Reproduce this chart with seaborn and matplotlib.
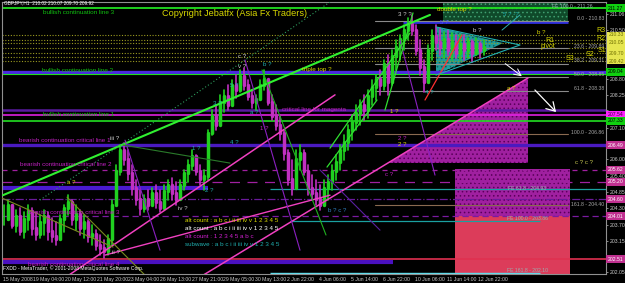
import numpy as np
import pandas as pd
import matplotlib
matplotlib.use("Agg")
import matplotlib.pyplot as plt
import seaborn as sns
from matplotlib.patches import Polygon, Rectangle

# ---------------- data ----------------
bar_x = list(range(4, 488, 4))  # H1 bars aggregated by 4 (bar index)
hi = [204.40, 204.57, 204.40, 204.22, 204.29, 204.15, 204.40, 204.29, 204.15, 204.05,
      204.22, 204.15, 203.94, 203.80, 204.05, 204.40, 204.74, 204.57, 204.40, 204.22,
      204.05, 203.87, 203.70, 203.52, 203.35, 203.17, 203.35, 204.57, 205.79, 206.49,
      206.56, 206.31, 205.79, 205.27, 204.92, 204.74, 204.92, 204.99, 205.09, 204.92,
      205.09, 205.27, 205.34, 205.20, 205.27, 205.62, 205.97, 206.31, 206.14, 205.79,
      205.62, 207.01, 207.71, 207.89, 208.23, 208.41, 208.58, 208.76, 208.93, 209.11,
      209.18, 208.76, 208.41, 208.23, 208.76, 209.11, 208.76, 208.23, 207.89, 207.54,
      207.01, 206.31, 205.97, 206.31, 206.49, 206.31, 205.79, 205.44, 205.27, 205.09,
      205.27, 205.44, 205.79, 206.14, 206.49, 206.84, 207.19, 207.54, 207.89, 208.06,
      208.23, 208.41, 208.76, 208.93, 209.11, 209.46, 209.63, 209.80, 210.15, 210.33,
      210.68, 210.92, 211.03, 210.68, 210.15, 209.46, 209.98, 210.50, 210.68, 210.57,
      210.43, 210.50, 210.40, 210.33, 210.33, 210.33, 210.22, 210.15, 210.22, 210.08,
      210.15]
lo = [203.70, 203.87, 203.59, 203.45, 203.35, 203.24, 203.52, 203.35, 203.17, 203.24,
      203.35, 203.17, 203.10, 203.00, 203.17, 203.45, 204.05, 203.70, 203.52, 203.35,
      203.24, 203.10, 203.00, 202.82, 202.65, 202.55, 202.65, 203.00, 204.40, 205.44,
      205.79, 205.27, 204.74, 204.40, 204.05, 204.15, 204.22, 204.40, 204.29, 204.15,
      204.40, 204.57, 204.57, 204.40, 204.57, 204.92, 205.20, 205.62, 205.44, 205.09,
      204.92, 205.27, 206.84, 207.01, 207.36, 207.64, 207.71, 207.99, 208.13, 208.34,
      208.41, 208.06, 207.78, 207.71, 208.06, 208.41, 207.89, 207.36, 207.01, 206.66,
      205.97, 205.09, 204.74, 205.27, 205.62, 205.44, 204.74, 204.57, 204.40, 204.22,
      204.40, 204.57, 204.92, 205.27, 205.62, 205.97, 206.31, 206.66, 207.01, 207.19,
      207.36, 207.43, 207.89, 208.06, 208.23, 208.41, 208.23, 208.58, 209.11, 209.46,
      209.80, 210.15, 210.33, 209.63, 208.93, 208.34, 208.76, 209.46, 209.80, 209.63,
      209.53, 209.63, 209.46, 209.53, 209.46, 209.46, 209.53, 209.39, 209.63, 209.53,
      209.63]
cl = [203.9, 204.4, 203.7, 204.0, 203.5, 203.9, 204.2, 203.6, 203.4, 203.8,
      204.0, 203.5, 203.3, 203.2, 203.9, 204.3, 204.5, 203.9, 204.1, 203.6,
      203.8, 203.3, 203.4, 203.0, 202.9, 202.8, 203.2, 204.4, 205.6, 206.3,
      206.0, 205.5, 205.0, 204.6, 204.3, 204.6, 204.4, 204.8, 204.5, 204.3,
      204.9, 205.1, 204.8, 204.6, 205.1, 205.5, 205.8, 206.1, 205.6, 205.3,
      205.4, 206.9, 207.5, 207.2, 208.0, 208.2, 207.9, 208.6, 208.4, 208.9,
      208.6, 208.2, 208.0, 208.1, 208.6, 208.8, 208.0, 207.5, 207.2, 206.9,
      206.2, 205.3, 205.0, 206.0, 206.2, 205.6, 205.0, 204.8, 204.6, 204.4,
      205.0, 205.2, 205.6, 205.9, 206.3, 206.6, 207.0, 207.3, 207.6, 207.9,
      207.7, 208.2, 208.5, 208.8, 208.6, 209.3, 208.7, 209.6, 209.9, 210.2,
      210.5, 210.7, 210.5, 209.8, 209.2, 208.7, 209.8, 210.3, 210.1, 209.9,
      210.2, 209.8, 210.1, 209.7, 210.0, 209.8, 210.1, 209.7, 210.0, 209.8,
      209.92]

# full width horizontal levels
full_lvls = [211.27, 209.04, 208.98, 207.71, 207.54, 207.33, 206.49, 205.62, 205.20, 204.60, 204.01, 202.51]
# partial horizontal levels
part_lvls = [204.99, 204.95, 203.84, 202.41, 202.03, 210.78]
# fibonacci retracement
fib_pct = ["0.0", "23.6", "38.2", "50.0", "61.8", "100.0", "161.8"]
fib_val = [210.83, 209.89, 209.31, 208.85, 208.38, 206.86, 204.40]
# pivots
piv_names = ["R3", "R2", "R1", "pivot", "S1", "S2", "S3"]
piv_vals = [210.33, 210.15, 210.05, 209.87, 209.70, 209.56, 209.42]
piv_shown = [210.33, 210.05, 209.70, 209.42]
# fibonacci expansion
fe_txt = ["FE 100.0 - 211.26", "FE 61.8 - 204.93", "FE 100.0 - 203.86", "FE 161.8 - 202.10"]

# trend lines: (bar0, price0, bar1, price1)
trend_bar0 = [3, 40, 57, 190, 105, 425, 245, 400, 320, 125, 262, 330, 385, 327, 123, 67, 0]
trend_p0 = [204.74, 204.57, 201.67, 201.67, 202.65, 208.06, 209.46, 210.15, 205.62, 206.66,
            209.11, 206.38, 207.71, 205.72, 206.49, 204.67, 204.67]
trend_bar1 = [430, 330, 335, 528, 330, 462, 300, 435, 380, 160, 326, 410, 413, 377, 230, 147, 113]
trend_p1 = [211.03, 211.48, 208.24, 208.83, 204.74, 210.33, 202.82, 205.44, 203.52, 202.82,
            203.35, 210.40, 211.10, 208.06, 205.86, 201.88, 202.93]

# right axis
ytick_vals = [211.06, 210.50, 209.95, 209.40, 208.80, 208.25, 207.70, 207.10, 206.55, 206.00,
              205.40, 204.85, 204.30, 203.70, 203.15, 202.60, 202.05]
ytick_hidden = [209.95, 209.40, 207.70, 206.55, 202.60]
date_labels = ["15 May 2008", "19 May 04:00", "20 May 12:00", "21 May 20:00", "23 May 04:00",
               "26 May 13:00", "27 May 21:00", "29 May 05:00", "30 May 13:00", "2 Jun 22:00",
               "4 Jun 06:00", "5 Jun 14:00", "6 Jun 22:00", "10 Jun 06:00", "11 Jun 14:00",
               "12 Jun 22:00"]
date_pos = [3, 33, 65, 97, 128, 160, 192, 223, 255, 287, 319, 351, 383, 415, 447, 478]

# ---------------- style ----------------
sns.set_theme(style="dark", rc={"axes.facecolor": "black", "figure.facecolor": "black",
                                "axes.edgecolor": "#808080", "xtick.color": "#A0A0A0",
                                "ytick.color": "#A0A0A0", "hatch.linewidth": 0.6})
plt.rcParams["font.family"] = ["Liberation Sans", "DejaVu Sans"]

W, H = 625, 283
fig = plt.figure(figsize=(W / 100, H / 100), dpi=100)
ax = fig.add_axes([2 / W, 9 / H, 604 / W, 272 / H])
ax.set_facecolor("black")
ax.set_xlim(2, 606)
ax.set_ylim(201.99, 211.48)

def T(x, y, s, c="#C0C0C0", fs=4.6, **kw):
    kw.setdefault("va", "center")
    kw.setdefault("ha", "left")
    fig.text(x / W, 1 - y / H, s, color=c, fontsize=fs, **kw)

# ---------------- shaded objects ----------------
ax.add_patch(Rectangle((443, 210.78), 125, 0.70, facecolor="#0F4A2A", edgecolor="#3FA070",
                       hatch="....", lw=0, zorder=1))
ax.add_patch(Polygon([(436, 210.61), (503, 210.05), (436, 208.93)], closed=True,
                     facecolor="#1E9A9A", edgecolor="#0E5E5E", hatch="....", lw=0, zorder=1))
ax.add_patch(Polygon([(388, 205.86), (528, 205.86), (528, 208.83)], closed=True,
                     facecolor="#A020A0", edgecolor="#5A005A", hatch="....", lw=0, zorder=1))
ax.add_patch(Rectangle((455, 204.01), 115, 1.64, facecolor="#A020A0", edgecolor="#5A005A",
                       hatch="....", lw=0, zorder=1))
ax.add_patch(Rectangle((455, 201.99), 115, 2.02, facecolor="#DC3C5A", lw=0, zorder=1))

# ---------------- horizontal lines ----------------
full_sty = [dict(c="#22E022", lw=1.3), dict(c="#4A2AE0", lw=2.4), dict(c="#22E022", lw=0.8),
            dict(c="#5A1AA0", lw=1.8), dict(c="#E020E0", lw=1.2), dict(c="#22E022", lw=1.2),
            dict(c="#4A1AC0", lw=2.4), dict(c="#A020A0", lw=0.9, ls=(0, (4, 4))),
            dict(c="#A020A0", lw=0.9, ls=(0, (8, 6))), dict(c="#6A1A9A", lw=0.9, ls="-."),
            dict(c="#7A1AA0", lw=0.9, ls=(0, (5, 3))), dict(c="#E03050", lw=1.2)]
for v, s in zip(full_lvls, full_sty):
    ax.axhline(v, color=s["c"], lw=s["lw"], ls=s.get("ls", "-"), zorder=2)
part_x = [(3, 208), (270, 606), (290, 540), (3, 393), (270, 540), (403, 568)]
part_sty = [dict(c="#4A1AD0", lw=3.0), dict(c="#1AA0A0", lw=0.9), dict(c="#1AA0A0", lw=0.9),
            dict(c="#4A10C0", lw=3.0), dict(c="#60E0F0", lw=1.0), dict(c="#3030E0", lw=2.0)]
for v, (x0, x1), s in zip(part_lvls, part_x, part_sty):
    ax.plot([x0, x1], [v, v], color=s["c"], lw=s["lw"], zorder=2, solid_capstyle="butt")

for v in piv_vals:
    ax.axhline(v, color="#9A9A20", lw=0.8, ls=(0, (1, 1.5)), zorder=2)
for i, v in enumerate(fib_val):
    col = "#8A6A50" if fib_pct[i] in ("100.0", "161.8") else "#8A8A8A"
    ax.plot([375, 568], [v, v], color=col, lw=0.8, zorder=2)

# ---------------- trend lines ----------------
tr_sty = [dict(c="#30F030", lw=1.5), dict(c="#2E9E5E", lw=0.8, ls=(0, (1, 2))),
          dict(c="#F040C0", lw=1.1), dict(c="#F040C0", lw=1.1), dict(c="#F040C0", lw=1.0),
          dict(c="#FF3030", lw=0.9), dict(c="#8A20C0", lw=0.8), dict(c="#8A20C0", lw=0.8),
          dict(c="#5A20A0", lw=0.8), dict(c="#8A20C0", lw=0.8), dict(c="#20B020", lw=0.8),
          dict(c="#30E030", lw=0.9), dict(c="#30E030", lw=0.9), dict(c="#30E030", lw=0.9),
          dict(c="#2A7A2A", lw=0.8), dict(c="#7A8A20", lw=0.8), dict(c="#7A8A20", lw=0.8)]
for b0, p0, b1, p1, s in zip(trend_bar0, trend_p0, trend_bar1, trend_p1, tr_sty):
    ax.plot([b0, b1], [p0, p1], color=s["c"], lw=s["lw"], ls=s.get("ls", "-"), zorder=4)

# triangle outline for teal area
ax.plot([436, 520, 436], [210.61, 209.98, 208.93], color="#20B0B0", lw=0.8, zorder=4)

# ---------------- price bars (seaborn) ----------------
opn = [cl[0]] + cl[:-1]
rows_w, rows_b = [], []
for i, (x, h, l, o, c) in enumerate(zip(bar_x, hi, lo, opn, cl)):
    d = "up" if c >= o else "down"
    rows_w += [dict(x=x, p=h, id=i, d=d), dict(x=x, p=l, id=i, d=d)]
    rows_b += [dict(x=x, p=o, id=i, d=d), dict(x=x, p=c, id=i, d=d)]
wick = pd.DataFrame(rows_w)
body = pd.DataFrame(rows_b)
pal = {"up": "#20D020", "down": "#C030C0"}
sns.lineplot(data=wick, x="x", y="p", units="id", estimator=None, hue="d", palette=pal,
             sort=False, linewidth=1.2, legend=False, ax=ax, zorder=3)
sns.lineplot(data=body, x="x", y="p", units="id", estimator=None, hue="d", palette=pal,
             sort=False, linewidth=2.5, legend=False, ax=ax, zorder=3)

# ---------------- arrows ----------------
ax.annotate("", xy=(524, 208.83), xytext=(503, 209.39),
            arrowprops=dict(arrowstyle="->", color="white", lw=0.7), zorder=5)
ax.annotate("", xy=(558, 207.57), xytext=(533, 208.48),
            arrowprops=dict(arrowstyle="->,head_length=0.5,head_width=0.3", color="white", lw=0.9), zorder=5)
ax.plot([502, 520], [210.50, 211.03], color="#30B0B0", lw=0.7, zorder=4)

# ---------------- axes ----------------
ax.set_xlabel("")
ax.set_ylabel("")
ax.yaxis.tick_right()
ax.set_yticks(ytick_vals)
ax.set_yticklabels(["" if v in ytick_hidden else f"{v:.2f}" for v in ytick_vals],
                   fontsize=3.7, color="#C8C8C8")
ax.set_xticks(date_pos)
ax.set_xticklabels(date_labels, fontsize=3.7, color="#C8C8C8", ha="left")
ax.tick_params(axis="both", length=1.5, width=0.6, pad=0.6, color="#A0A0A0")
ax.tick_params(axis="y", pad=1.5)
for sp in ax.spines.values():
    sp.set_color("#909090")
    sp.set_linewidth(0.8)
ax.grid(False)

# colored price labels on right axis
tr = ax.get_yaxis_transform()
ax.add_patch(Rectangle((1.002, 209.33), 0.03, 1.10, transform=tr, facecolor="#E6E650",
                       lw=0, clip_on=False, zorder=5))
for v in piv_shown:
    ax.text(1.004, v, f"{v:.2f}", transform=tr, fontsize=3.6, color="#707000", va="center",
            ha="left", clip_on=False, zorder=6)
box_vals = [211.27, 209.04, 207.54, 207.33, 206.49, 205.62, 205.20, 204.60, 204.01, 202.51]
box_bg = ["#10D010", "#10D010", "#FF20FF", "#10D010", "#C03090",
          "#C03090", "#C03090", "#C03090", "#C03090", "#C03090"]
box_fg = ["black", "black", "#400040", "black", "white", "white",
          "white", "white", "white", "white"]
for v, bg, fg in zip(box_vals, box_bg, box_fg):
    ax.text(1.003, v, f"{v:.2f}", transform=tr, fontsize=3.7, color=fg, va="center", ha="left",
            bbox=dict(boxstyle="square,pad=0.3", fc=bg, ec="none"), clip_on=False, zorder=6)

# ---------------- texts ----------------
T(4, 3, "GBPJPY,H1  210.02 210.07 209.70 209.92", "white", 3.4)
T(162, 14, "Copyright Jebatfx (Asia Fx Traders)", "#D8D800", 6.6)
T(43, 12, "bullish continuation line 3", "#10C010", 4.6)
T(42, 71, "bullish continuation line 2", "#10C010", 4.6)
T(43, 115, "bullish continuation line 1", "#10C010", 4.6)
T(19, 140, "bearish continuation critical line 1", "#C020C0", 4.5)
T(20, 165, "bearish continuation critical line 2", "#C020C0", 4.5)
T(28, 212, "bearish continuation critical line 3", "#C020C0", 4.5)
T(28, 264, "bearish continuation critical line 4", "#C020C0", 4.5)
T(282, 110, "critical line for magenta", "#C020C0", 4.5)
T(302, 69, "triple top ?", "#D8D800", 4.6)
T(437, 10, "double top ?", "#D8D800", 4.6)
T(185, 221, "alt count : a b c i ii iii iv v 1 2 3 4 5", "#D8D800", 4.5)
T(185, 229, "alt count : a b c i ii iii iv v 1 2 3 4 5", "white", 4.5)
T(185, 237, "alt count : 1 2 3 4 5 a b c", "#D020D0", 4.5)
T(185, 245, "subwave : a b c i ii iii iv v 1 2 3 4 5", "#20B0B0", 4.5)
T(3, 268, "FXDD - MetaTrader, \u00a9 2001-2008 MetaQuotes Software Corp.", "white", 3.6)

fib_y = [19, 46, 61, 75, 88, 132, 205]
for pct, v, y in zip(fib_pct, fib_val, fib_y):
    T(604, y, f"{pct} - {v:.2f}", "#A8A8A8", 3.7, ha="right")
fe_pos = [(552, 6), (508, 188), (507, 219), (507, 270)]
for s, (x, y) in zip(fe_txt, fe_pos):
    T(x, y, s, "#9AB0B0", 3.7)

piv_pos = [(596, 31), (596, 38), (545, 40), (541, 46), (598, 51), (586, 54), (566, 58)]
for n, (x, y) in zip(piv_names, piv_pos):
    T(x, y, n, "#D8D800", 5.0)

waves = [(238, 57, "c ?", "#D0D0D0"), (238, 67, "v ?", "#D0D0D0"), (230, 86, "5 ?", "#20B0B0"),
         (263, 64, "b ?", "#20B0B0"), (398, 14, "3 ? ?", "#D0D0D0"), (440, 22, "5 ?", "#5050FF"),
         (473, 31, "b ?", "#D0D0D0"), (537, 32, "b ?", "#D8D800"), (447, 68, "a ?", "#20B0B0"),
         (507, 88, "a ?", "#D8D800"), (503, 15, "5 ? -?", "#20B0B0"), (213, 104, "3 ?", "#20B0B0"),
         (250, 113, "a ?", "#20B0B0"), (260, 128, "1 ?", "#C020C0"), (110, 139, "iii ?", "#D0D0D0"),
         (192, 149, "1 ?", "#20B0B0"), (230, 143, "4 ?", "#20B0B0"), (67, 182, "a ?", "#D8D800"),
         (205, 190, "2 ?", "#20B0B0"), (178, 208, "iv ?", "#D0D0D0"), (390, 112, "1 ?", "#D8D800"),
         (398, 138, "2 ?", "#C020C0"), (398, 145, "2 ?", "#D8D800"), (385, 175, "c ?", "#C020C0"),
         (575, 162, "c ? c ?", "#C8C850"), (112, 252, "ii ?", "#D0D0D0"), (328, 210, "b ? c ?", "#3080C0"),
         (425, 92, "4 ?", "#20B0B0")]
for x, y, s, c in waves:
    T(x, y, s, c, 4.4)

fig.savefig("out.png", dpi=100, facecolor="black")
